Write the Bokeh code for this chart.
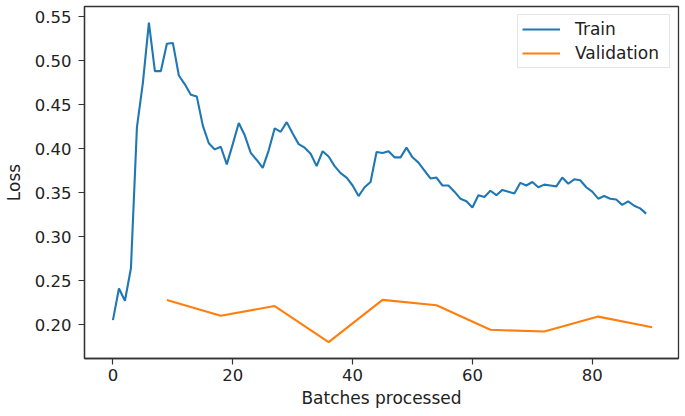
from bokeh.plotting import figure
from bokeh.models import Range1d, FixedTicker, NumeralTickFormatter
from bokeh.embed import file_html
from bokeh.resources import INLINE

train_x = list(range(90))
train_loss = [
    0.205, 0.241, 0.227, 0.264, 0.424, 0.475, 0.543, 0.488, 0.488, 0.519,
    0.520, 0.483, 0.473, 0.461, 0.459, 0.426, 0.406, 0.399, 0.402, 0.382,
    0.405, 0.429, 0.415, 0.395, 0.387, 0.378, 0.398, 0.423, 0.419, 0.430,
    0.417, 0.405, 0.401, 0.394, 0.380, 0.397, 0.391, 0.380, 0.372, 0.367,
    0.358, 0.346, 0.356, 0.362, 0.396, 0.395, 0.397, 0.390, 0.390, 0.401,
    0.390, 0.384, 0.375, 0.366, 0.367, 0.358, 0.358, 0.351, 0.343, 0.340,
    0.333, 0.347, 0.345, 0.352, 0.347, 0.353, 0.351, 0.349, 0.361, 0.358,
    0.362, 0.356, 0.359, 0.358, 0.357, 0.367, 0.360, 0.365, 0.364, 0.356,
    0.351, 0.343, 0.346, 0.343, 0.342, 0.336, 0.340, 0.335, 0.332, 0.326,
]
val_x = [9, 18, 27, 36, 45, 54, 63, 72, 81, 90]
val_loss = [0.228, 0.210, 0.221, 0.180, 0.228, 0.222, 0.194, 0.192, 0.209, 0.197]

x_ticks = [0, 20, 40, 60, 80]
y_ticks = [0.20, 0.25, 0.30, 0.35, 0.40, 0.45, 0.50, 0.55]

FONT = "DejaVu Sans"
TXT = "#222222"

p = figure(width=684, height=414, output_backend="svg", toolbar_location=None,
           x_range=Range1d(-4.75, 94.4), y_range=Range1d(0.1614, 0.5614),
           min_border_left=83, min_border_right=6, min_border_top=6, min_border_bottom=56)

p.line(train_x, train_loss, line_color="#1f77b4", line_width=2.1, legend_label="Train")
p.line(val_x, val_loss, line_color="#ff7f0e", line_width=2.1, legend_label="Validation")

p.xgrid.visible = False
p.ygrid.visible = False
p.outline_line_color = "#333333"
p.outline_line_width = 1.3
p.outline_line_alpha = 1.0

for ax in (p.xaxis[0], p.yaxis[0]):
    ax.axis_line_color = "#333333"
    ax.axis_line_width = 1.3
    ax.major_tick_line_color = "#333333"
    ax.major_tick_line_width = 1.2
    ax.major_tick_out = 6
    ax.major_tick_in = 0
    ax.minor_tick_line_color = None
    ax.major_label_text_font = FONT
    ax.major_label_text_font_size = "16.5px"
    ax.major_label_text_color = TXT
    ax.axis_label_text_font = FONT
    ax.axis_label_text_font_size = "17px"
    ax.axis_label_text_color = TXT
    ax.axis_label_text_font_style = "normal"

p.xaxis.major_label_standoff = 4
p.yaxis.major_label_standoff = 7
p.xaxis.ticker = FixedTicker(ticks=x_ticks)
p.yaxis.ticker = FixedTicker(ticks=y_ticks)
p.yaxis.formatter = NumeralTickFormatter(format="0.00")
p.xaxis.axis_label = "Batches processed"
p.yaxis.axis_label = "Loss"
p.xaxis.axis_label_standoff = 4
p.yaxis.axis_label_standoff = 8

lg = p.legend[0]
lg.location = "top_right"
lg.margin = 8
lg.padding = 4
lg.spacing = 4
lg.glyph_width = 38
lg.glyph_height = 20
lg.label_height = 20
lg.label_width = 90
lg.label_standoff = 15
lg.label_text_font = FONT
lg.label_text_font_size = "17px"
lg.label_text_color = TXT
lg.border_line_color = "#cccccc"
lg.border_line_width = 1
lg.background_fill_color = "white"
lg.background_fill_alpha = 0.8

open("out.html", "w").write(file_html(p, INLINE))
